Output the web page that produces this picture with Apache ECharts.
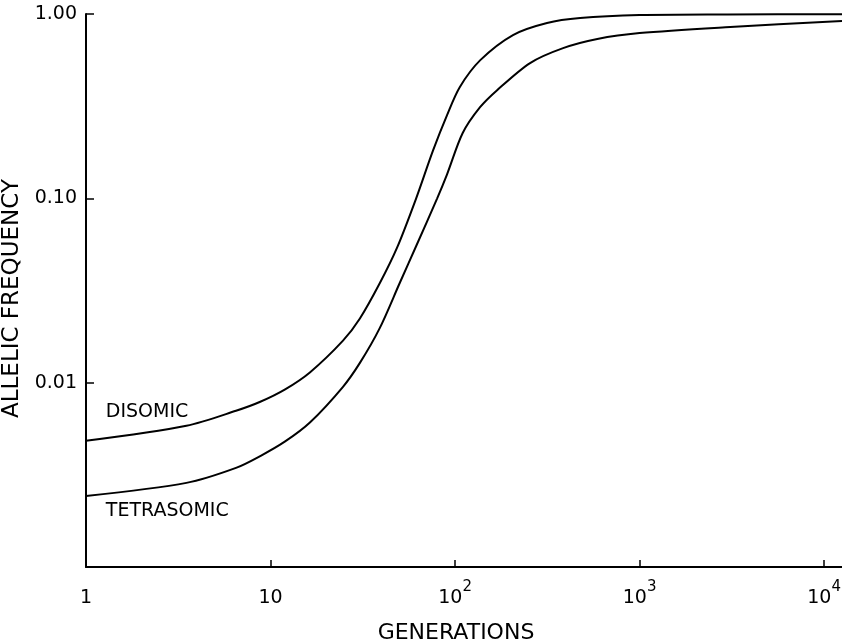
<!DOCTYPE html>
<html>
<head>
<meta charset="utf-8">
<style>
  html, body { margin: 0; padding: 0; background: #fff; }
  #main { width: 842px; height: 641px; }
</style>
<script src="https://cdn.jsdelivr.net/npm/echarts@6/dist/echarts.min.js"></script>
</head>
<body>
<div id="main"></div>
<script>
// generations (x) and allelic frequency (y)
var disomicGen = [1, 3.5, 6.5, 8.8, 12, 16.4, 24.7, 30.5, 39, 48.5, 61, 76, 90.5, 106, 137, 206, 315, 476, 1000, 3000, 12500];
var disomicFreq = [0.00484, 0.00584, 0.00704, 0.00788, 0.0092, 0.0114, 0.0169, 0.0223, 0.0345, 0.054, 0.0976, 0.182, 0.283, 0.401, 0.562, 0.769, 0.894, 0.951, 0.987, 0.995, 0.998];

var tetraGen = [1, 3.5, 6.5, 8.8, 12, 16.4, 24.7, 30.5, 39, 50, 62, 80, 90.5, 110, 136.6, 169, 255, 385, 590, 1000, 3100, 12500];
var tetraFreq = [0.00243, 0.00286, 0.00345, 0.0040, 0.0048, 0.0061, 0.0095, 0.0128, 0.0197, 0.0345, 0.056, 0.1, 0.135, 0.226, 0.312, 0.386, 0.542, 0.653, 0.732, 0.788, 0.85, 0.916];

// curve name labels, placed in data coordinates
var curveLabels = [
  { name: 'DISOMIC', value: [1.28, 0.00695] },
  { name: 'TETRASOMIC', value: [1.28, 0.00201] }
];

function pairs(xs, ys) {
  return xs.map(function (x, i) { return [x, ys[i]]; });
}

var font = '"DejaVu Sans", sans-serif';
var chart = echarts.init(document.getElementById('main'));

chart.setOption({
  animation: false,
  grid: { left: 86, right: 0, top: 14, bottom: 74, containLabel: false, outerBoundsMode: 'none' },
  xAxis: {
    type: 'log',
    logBase: 10,
    min: 1,
    max: 12500,
    name: 'GENERATIONS',
    nameLocation: 'middle',
    nameGap: 55,
    nameTextStyle: { color: '#000', fontSize: 22, fontFamily: font, padding: [0, 16, 0, 0] },
    axisLine: { lineStyle: { color: '#000', width: 2 } },
    axisTick: { inside: true, length: 7, lineStyle: { color: '#000', width: 1.5 } },
    splitLine: { show: false },
    axisLabel: {
      color: '#000',
      fontSize: 19,
      fontFamily: font,
      margin: 13,
      lineHeight: 36,
      showMaxLabel: false,
      formatter: function (v) {
        var n = Math.round(Math.log10(v));
        if (n === 0) return '1';
        if (n === 1) return '10';
        return '10{sup|' + n + '}';
      },
      rich: {
        sup: { fontSize: 15, lineHeight: 15, verticalAlign: 'top', fontFamily: font, color: '#000' }
      }
    }
  },
  yAxis: {
    type: 'log',
    logBase: 10,
    min: 0.001,
    max: 1,
    name: 'ALLELIC FREQUENCY',
    nameLocation: 'middle',
    nameRotate: 90,
    nameGap: 62,
    nameTextStyle: { color: '#000', fontSize: 23, fontFamily: font, padding: [0, 16, 0, 0] },
    axisLine: { show: true, lineStyle: { color: '#000', width: 2 } },
    axisTick: { inside: true, length: 8, lineStyle: { color: '#000', width: 1.5 } },
    splitLine: { show: false },
    axisLabel: {
      color: '#000',
      fontSize: 19,
      fontFamily: font,
      margin: 9,
      formatter: function (v) {
        var n = Math.round(Math.log10(v));
        if (n === 0) return '1.00';
        if (n === -1) return '0.10';
        if (n === -2) return '0.01';
        return '';
      }
    }
  },
  series: [{
    name: 'Disomic',
    type: 'line',
    data: pairs(disomicGen, disomicFreq),
    smooth: 0.3,
    showSymbol: false,
    lineStyle: { color: '#000', width: 2 }
  }, {
    name: 'Tetrasomic',
    type: 'line',
    data: pairs(tetraGen, tetraFreq),
    smooth: 0.3,
    showSymbol: false,
    lineStyle: { color: '#000', width: 2 }
  }, {
    type: 'scatter',
    data: curveLabels,
    symbolSize: 0,
    silent: true,
    itemStyle: { opacity: 1 },
    label: {
      show: true,
      position: 'right',
      distance: 0,
      formatter: '{b}',
      color: '#000',
      fontSize: 19,
      fontFamily: font
    }
  }]
});
</script>
</body>
</html>
